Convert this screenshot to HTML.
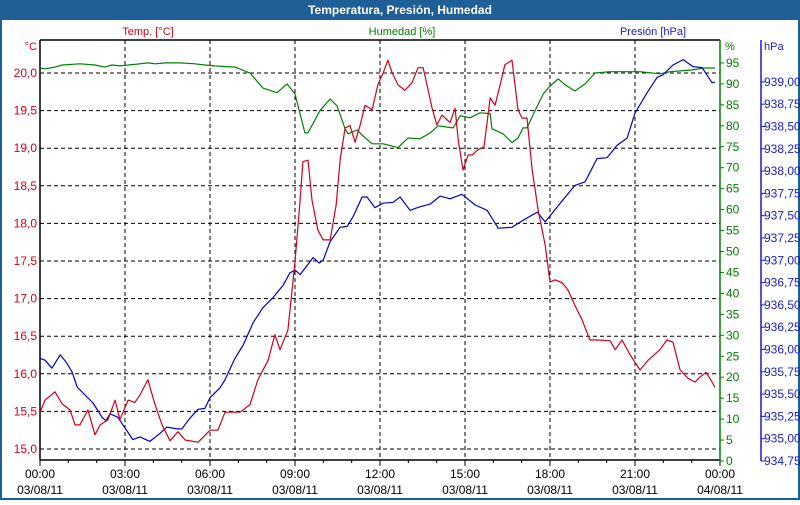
<!DOCTYPE html>
<html><head><meta charset="utf-8"><style>
body{margin:0;width:800px;height:500px;overflow:hidden;background:#fff;font-family:"Liberation Sans",sans-serif}
</style></head><body>
<svg id="chart" width="800" height="500" xmlns="http://www.w3.org/2000/svg" font-family="Liberation Sans, sans-serif" font-size="11">
<rect x="0" y="0" width="800" height="500" fill="#fff"/>
<rect x="0" y="0" width="800" height="20" fill="#1f5f97"/>
<rect x="1" y="1" width="798" height="498" fill="none" stroke="#1f5f97" stroke-width="2"/>
<text x="400" y="14" text-anchor="middle" fill="#fff" font-weight="bold" font-size="12">Temperatura, Presión, Humedad</text>
<text x="148" y="35" text-anchor="middle" fill="#d4001a">Temp. [°C]</text>
<text x="402" y="35" text-anchor="middle" fill="#008000">Humedad [%]</text>
<text x="653" y="35" text-anchor="middle" fill="#1a1acc">Presión [hPa]</text>
<text x="37" y="50" text-anchor="end" fill="#d4001a">°C</text>
<text x="725" y="50" fill="#008000">%</text>
<text x="764" y="50" fill="#1a1acc">hPa</text>
<g id="grid"></g><g id="axes"></g><g id="series"></g>
</svg>
<script>
const timeTicks=["00:00","03:00","06:00","09:00","12:00","15:00","18:00","21:00","00:00"];
const dateTicks=["03/08/11","03/08/11","03/08/11","03/08/11","03/08/11","03/08/11","03/08/11","03/08/11","04/08/11"];
const tempTicks=[15.0,15.5,16.0,16.5,17.0,17.5,18.0,18.5,19.0,19.5,20.0];
const humTicks=[0,5,10,15,20,25,30,35,40,45,50,55,60,65,70,75,80,85,90,95];
const presTicks=[934.75,935.00,935.25,935.50,935.75,936.00,936.25,936.50,936.75,937.00,937.25,937.50,937.75,938.00,938.25,938.50,938.75,939.00];
const tempHours=[0,.18,.53,.78,1.06,1.24,1.41,1.69,1.94,2.12,2.4,2.65,2.82,3.11,3.35,3.53,3.81,4.06,4.31,4.59,4.87,5.12,5.58,6,6.28,6.53,6.78,7.06,7.41,7.69,8.05,8.29,8.47,8.75,9,9.18,9.28,9.46,9.6,9.81,9.99,10.24,10.45,10.59,10.77,10.94,11.12,11.3,11.47,11.72,11.93,12.11,12.28,12.43,12.64,12.88,13.13,13.34,13.52,13.7,13.84,14.01,14.19,14.47,14.65,14.76,14.93,15.11,15.25,15.46,15.67,15.89,16.06,16.24,16.41,16.66,16.87,17.01,17.19,17.37,17.58,17.83,18,18.18,18.43,18.64,18.88,19.13,19.41,19.66,20.12,20.3,20.54,20.83,21.18,21.46,21.88,22.13,22.34,22.59,22.87,23.12,23.3,23.51,23.72,23.82];
const tempValues=[15.49,15.65,15.76,15.6,15.52,15.32,15.32,15.52,15.19,15.32,15.39,15.65,15.39,15.65,15.62,15.72,15.92,15.59,15.32,15.11,15.23,15.12,15.09,15.25,15.25,15.49,15.49,15.49,15.59,15.92,16.18,16.52,16.32,16.58,17.49,18.31,18.82,18.84,18.31,17.91,17.78,17.78,18.24,18.84,19.27,19.3,19.08,19.31,19.57,19.51,19.85,20,20.17,20,19.84,19.77,19.87,20.07,20.07,19.77,19.53,19.31,19.44,19.34,19.53,19.11,18.71,18.91,18.91,18.98,19.02,19.67,19.57,19.84,20.11,20.17,19.51,19.4,19.4,18.71,18.18,17.71,17.22,17.25,17.21,17.11,16.91,16.72,16.45,16.45,16.44,16.32,16.45,16.25,16.05,16.18,16.32,16.45,16.42,16.05,15.94,15.89,15.96,16.02,15.89,15.82];
const humHours=[0,.18,.53,.78,1.41,1.94,2.29,2.54,2.82,3.53,3.81,4.06,4.41,4.94,5.47,5.82,6.17,6.88,7.41,7.87,8.37,8.72,9,9.35,9.46,9.88,10.24,10.48,10.77,10.87,11.19,11.4,11.72,12.11,12.64,12.99,13.41,13.77,14.05,14.58,14.83,15.18,15.53,15.89,15.95,16.34,16.66,16.87,17.05,17.19,17.47,17.76,18,18.29,18.53,18.88,19.24,19.59,20.12,21.18,21.88,22.24,22.94,23.47,23.82];
const humValues=[93.8,93.6,94,94.5,94.8,94.5,94,94.5,94.3,94.8,95,94.8,95,95,94.8,94.5,94.3,94,92.6,89,87.9,90,87.6,78.3,78.3,83.6,86.4,84.8,79.3,78.1,79,77.6,75.7,75.7,74.8,77.1,76.9,78.3,80,79.5,82.4,81.9,83.1,82.9,79.3,78.1,76,77.1,79.5,79.5,83.6,87.6,89.5,91.2,89.8,88.3,90,92.6,92.9,92.9,92.4,92.9,93.3,93.8,93.8];
const presHours=[0,.18,.42,.71,.92,1.13,1.31,1.87,2.19,2.33,2.47,2.75,3,3.28,3.53,3.88,4.24,4.48,4.84,5.01,5.29,5.58,5.82,6,6.35,6.53,6.88,7.17,7.52,7.87,8.22,8.58,8.82,9,9.18,9.64,9.85,9.99,10.24,10.59,10.84,11.05,11.37,11.54,11.82,12.11,12.46,12.71,13.06,13.41,13.77,14.12,14.47,14.89,15.36,15.78,16.17,16.66,17.05,17.55,17.83,18.36,18.88,19.24,19.66,20.01,20.37,20.72,21,21.43,21.78,21.99,22.34,22.7,23.05,23.37,23.72,23.82];
const presValues=[935.9,935.88,935.79,935.94,935.86,935.75,935.58,935.4,935.24,935.2,935.28,935.24,935.12,934.99,935.02,934.97,935.06,935.13,935.11,935.11,935.23,935.33,935.34,935.46,935.57,935.66,935.9,936.05,936.3,936.47,936.58,936.72,936.86,936.89,936.84,937.03,936.97,937,937.21,937.37,937.38,937.49,937.71,937.71,937.59,937.64,937.65,937.71,937.56,937.6,937.63,937.72,937.69,937.74,937.62,937.56,937.36,937.37,937.45,937.54,937.43,937.64,937.84,937.88,938.14,938.15,938.29,938.37,938.65,938.88,939.05,939.08,939.19,939.25,939.17,939.16,938.99,939.0];

const NS="http://www.w3.org/2000/svg";
const L=40,R=720,T=40,B=460;
const xS=h=>L+h*(R-L)/24;
const yT=v=>73+(20-v)*75.2;
const yH=v=>461-v*4.19;
const yP=v=>461-(v-934.75)*89.2;
function mk(tag,attrs,parent){const e=document.createElementNS(NS,tag);for(const k in attrs)e.setAttribute(k,attrs[k]);parent.appendChild(e);return e;}
const grid=document.getElementById('grid'),axes=document.getElementById('axes'),series=document.getElementById('series');
const fmt=(v,d)=>v.toFixed(d).replace('.',',');

tempTicks.forEach(v=>{const y=yT(v);
  const g=mk('line',{x1:L,x2:R,y1:y,y2:y,stroke:'#000','stroke-dasharray':'4,3'},grid);
  
  
  const t=mk('text',{x:37,y:y+4,'text-anchor':'end',fill:'#d4001a','font-size':'12'},axes);
  
  
  t.textContent=fmt(v,1);});
timeTicks.forEach((s,i)=>{const x=xS(i*3);
  if(i>0&&i<8){const g=mk('line',{x1:x,x2:x,y1:T,y2:B,stroke:'#000','stroke-dasharray':'4,3'},grid);
  
  }
  const t=mk('text',{x:x,y:478,'text-anchor':'middle',fill:'#000','font-size':'12'},axes);
  
  
  t.textContent=s;
  const d=mk('text',{x:x,y:494,'text-anchor':'middle',fill:'#000','font-size':'12'},axes);
  
  
  d.textContent=dateTicks[i];});
for(let h=0;h<=24;h++){const x=xS(h);const tk=mk('line',{x1:x,x2:x,y1:B,y2:B+(h%3?3:6),stroke:'#000'},axes);
  
  }
humTicks.forEach(v=>{const y=yH(v);
  const tk=mk('line',{x1:R,x2:R+4,y1:y,y2:y,stroke:'#008000'},axes);
  
  
  const t=mk('text',{x:726,y:y+4,fill:'#008000','font-size':'12'},axes);
  
  
  t.textContent=v;});
presTicks.forEach(v=>{const y=yP(v);
  const tk=mk('line',{x1:761,x2:765,y1:y,y2:y,stroke:'#1a1acc'},axes);
  
  
  const t=mk('text',{x:764,y:y+4,fill:'#1a1acc','font-size':'12'},axes);
  
  
  t.textContent=fmt(v,2);});
const frame=[['plot-top-border',L,T,R,T,'#000'],['plot-left-axis',L,T,L,B,'#000'],['plot-bottom-axis',L,B,R,B,'#000'],['humidity-axis-line',R,T,R,B+1,'#008000'],['pressure-axis-line',761,T,761,B+1,'#1a1acc']];
frame.forEach(f=>{const l=mk('line',{x1:f[1],y1:f[2],x2:f[3],y2:f[4],stroke:f[5],'stroke-width':'1.5'},axes);
  
  });
function line(hs,vs,yf,col,name){const pts=hs.map((h,i)=>xS(h).toFixed(1)+','+yf(vs[i]).toFixed(1)).join(' ');
  const p=mk('polyline',{points:pts,fill:'none',stroke:col,'stroke-width':'1.2','stroke-linejoin':'round'},series);
  
  }
line(humHours,humValues,yH,'#008000','humidity-line');
line(presHours,presValues,yP,'#0000cc','pressure-line');
line(tempHours,tempValues,yT,'#d4001a','temperature-line');
</script>
</body></html>
